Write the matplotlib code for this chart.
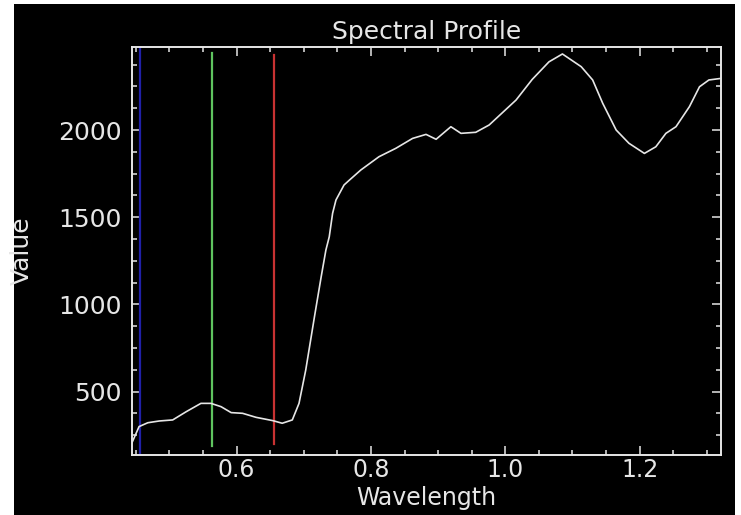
import matplotlib
matplotlib.use("Agg")
import matplotlib.pyplot as plt
from matplotlib.patches import Rectangle
from matplotlib.ticker import MultipleLocator

# Spectral profile (wavelength in micrometres, reflectance value)
wavelength = [0.444, 0.455, 0.468, 0.485, 0.505, 0.525, 0.547, 0.562, 0.577,
              0.592, 0.609, 0.629, 0.654, 0.668, 0.683, 0.693, 0.703, 0.716,
              0.726, 0.733, 0.738, 0.743, 0.748, 0.760, 0.768, 0.785, 0.812,
              0.837, 0.862, 0.882, 0.897, 0.919, 0.934, 0.956, 0.976, 1.016,
              1.040, 1.065, 1.085, 1.113, 1.130, 1.145, 1.165, 1.184, 1.207,
              1.224, 1.239, 1.254, 1.274, 1.289, 1.303, 1.321]
value = [204, 300, 322, 332, 338, 385, 433, 433, 414,
         380, 376, 353, 334, 319, 338, 433, 624, 930,
         1159, 1312, 1388, 1523, 1599, 1685, 1713, 1771, 1847,
         1895, 1952, 1975, 1947, 2019, 1981, 1987, 2029, 2172,
         2290, 2391, 2436, 2363, 2287, 2153, 2000, 1924, 1866,
         1904, 1981, 2019, 2134, 2248, 2287, 2296]

# Display band positions (B, G, R)
band_wavelengths = [0.456, 0.563, 0.656]
band_colors = ["#2020a8", "#5fc45f", "#c83232"]
band_tops = [2476, 2440, 2430]
band_bottoms = [137, 190, 200]

x_limits = (0.444, 1.321)
y_limits = (137, 2476)
x_ticks = [0.6, 0.8, 1.0, 1.2]
x_tick_labels = ["0.6", "0.8", "1.0", "1.2"]
y_ticks = [500, 1000, 1500, 2000]
y_tick_labels = ["500", "1000", "1500", "2000"]

fg = "#e6e6e6"
fs = 18
W, H = 741, 515
fig = plt.figure(figsize=(W / 100, H / 100), dpi=100, facecolor="white")
fig.patches.append(Rectangle((14 / W, 0), (735 - 14) / W, 1 - 4 / H,
                             transform=fig.transFigure, facecolor="black",
                             edgecolor="none", zorder=-10))

left, right, top, bottom = 131.7, 721.0, 47.0, 455.0
ax = fig.add_axes([left / W, 1 - bottom / H, (right - left) / W, (bottom - top) / H])
ax.set_facecolor("black")

for wl, c, t, b in zip(band_wavelengths, band_colors, band_tops, band_bottoms):
    ax.plot([wl, wl], [b, t], color=c, lw=1.6, zorder=2)

ax.plot(wavelength, value, color=fg, lw=1.2, zorder=3)

ax.set_xlim(*x_limits)
ax.set_ylim(*y_limits)
ax.set_xticks(x_ticks)
ax.set_xticklabels(x_tick_labels)
ax.set_yticks(y_ticks)
ax.set_yticklabels(y_tick_labels)
ax.xaxis.set_minor_locator(MultipleLocator(0.05))
ax.yaxis.set_minor_locator(MultipleLocator(125))

for spine in ax.spines.values():
    spine.set_color(fg)
    spine.set_linewidth(1.4)

ax.tick_params(which="both", direction="in", colors=fg, top=True, right=True,
               width=1.1)
ax.tick_params(which="major", length=6.5)
ax.tick_params(which="minor", length=3.5)
ax.tick_params(axis="x", which="major", pad=2, labelsize=17)
ax.tick_params(axis="y", which="major", pad=7, labelsize=fs)

ax.set_title("Spectral Profile", color=fg, fontsize=fs, pad=6)
ax.set_xlabel("Wavelength", color=fg, fontsize=17)
ax.set_ylabel("Value", color=fg, fontsize=fs)
ax.xaxis.set_label_coords(0.5, -0.0765)
ax.xaxis.label.set_va("top")
ax.yaxis.set_label_coords(-0.186, 0.5)
ax.yaxis.label.set_va("center")

fig.savefig("out.png", dpi=100, facecolor=fig.get_facecolor())
